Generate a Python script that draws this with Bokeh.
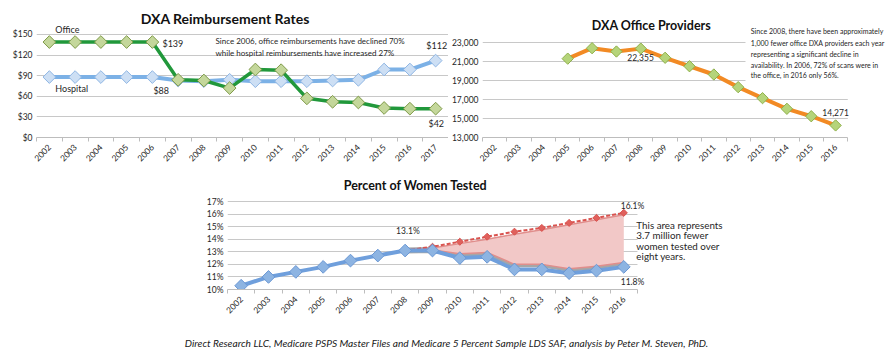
import math
from bokeh.plotting import figure
from bokeh.models import (Label, FixedTicker, PrintfTickFormatter, NumeralTickFormatter,
                          Range1d, BoxAnnotation, Spacer, Div)
from bokeh.layouts import row, column
from bokeh.embed import file_html
from bokeh.resources import INLINE

FONT = "Lato"
NAN = float("nan")

# ---------------- data ----------------
years_reimb = [2002, 2003, 2004, 2005, 2006, 2007, 2008, 2009, 2010, 2011, 2012, 2013, 2014, 2015, 2016, 2017]
office_rate = [139, 139, 139, 139, 139, 84, 83, 72, 99, 98, 57, 52, 51, 43, 42, 42]
hospital_rate = [88, 88, 88, 88, 88, 83, 82, 84, 82, 82, 82, 83, 84, 99, 99, 112]
reimb_ticks = [0, 30, 60, 90, 120, 150]

years_prov = [2002, 2003, 2004, 2005, 2006, 2007, 2008, 2009, 2010, 2011, 2012, 2013, 2014, 2015, 2016]
providers = [NAN, NAN, NAN, 21300, 22400, 22050, 22355, 21390, 20500, 19630, 18300, 17140, 16020, 15240, 14271]
prov_ticks = [13000, 15000, 17000, 19000, 21000, 23000]

years_pct = [2002, 2003, 2004, 2005, 2006, 2007, 2008, 2009, 2010, 2011, 2012, 2013, 2014, 2015, 2016]
pct_tested = [10.3, 11.0, 11.4, 11.8, 12.3, 12.7, 13.1, 13.1, 12.5, 12.6, 11.6, 11.6, 11.3, 11.5, 11.8]
years_proj = [2008, 2009, 2010, 2011, 2012, 2013, 2014, 2015, 2016]
pct_projected = [13.1, 13.4, 13.8, 14.2, 14.6, 14.9, 15.3, 15.7, 16.1]
gap_upper = [13.1, 13.3, 13.65, 14.0, 14.4, 14.75, 15.15, 15.55, 15.95]
gap_lower = [13.1, 13.15, 12.85, 12.95, 12.0, 12.0, 11.65, 11.85, 12.15]
pct_ticks = [10, 11, 12, 13, 14, 15, 16, 17]

TXT = "#262626"
GRID = "#c8c8c8"


def make_fig(width, height, years, x_hi, y_lo, y_hi, yticks, fmt, bl, bb):
    p = figure(width=width, height=height, output_backend="svg", toolbar_location=None,
               x_range=Range1d(years[0] - 0.5, x_hi), y_range=Range1d(y_lo, y_hi),
               min_border_left=bl, min_border_right=0, min_border_top=0, min_border_bottom=bb)
    p.outline_line_color = None
    p.background_fill_color = "white"
    p.border_fill_color = "white"
    p.xgrid.grid_line_color = None
    p.ygrid.ticker = FixedTicker(ticks=yticks)
    p.ygrid.grid_line_color = GRID
    p.ygrid.grid_line_width = 1
    p.yaxis.ticker = FixedTicker(ticks=yticks)
    p.yaxis.formatter = fmt
    p.yaxis.axis_line_color = None
    p.yaxis.major_tick_line_color = None
    p.yaxis.minor_tick_line_color = None
    p.yaxis.major_tick_out = 0
    p.yaxis.minor_tick_out = 0
    p.yaxis.major_label_text_font = FONT
    p.yaxis.major_label_text_font_size = "8.5px"
    p.yaxis.major_label_text_color = TXT
    p.yaxis.major_label_standoff = 4
    bounds = [y - 0.5 for y in years] + [years[-1] + 0.5]
    p.xaxis.ticker = FixedTicker(ticks=years, minor_ticks=bounds)
    p.xaxis.bounds = (years[0] - 0.5, years[-1] + 0.5)
    p.xaxis.axis_line_color = "#bdbdbd"
    p.xaxis.major_tick_line_color = None
    p.xaxis.major_tick_out = 0
    p.xaxis.major_tick_in = 0
    p.xaxis.minor_tick_line_color = "#bdbdbd"
    p.xaxis.minor_tick_out = 4
    p.xaxis.minor_tick_in = 0
    p.xaxis.major_label_orientation = math.pi / 4
    p.xaxis.major_label_text_font = FONT
    p.xaxis.major_label_text_font_size = "8.5px"
    p.xaxis.major_label_text_color = TXT
    p.xaxis.major_label_standoff = 4
    if x_hi > years[-1] + 0.5:
        p.add_layout(BoxAnnotation(left=years[-1] + 0.5, fill_color="white", fill_alpha=1.0,
                                   line_color=None, level="underlay"))
    return p


def lab(p, x, y, text, size="8.5px", align="left", style="normal", color=TXT, baseline="middle"):
    p.add_layout(Label(x=x, y=y, text=text, text_font=FONT, text_font_size=size,
                       text_align=align, text_baseline=baseline, text_font_style=style,
                       text_color=color))


def diamonds(p, xs, ys, size, fill, line):
    p.scatter(xs, ys, marker="square", angle=math.pi / 4, size=size,
              fill_color=fill, line_color=line, line_width=1)


# ---------------- chart 1 ----------------
p1 = make_fig(448, 170, years_reimb, 2017.5, 0, 199.5, reimb_ticks,
              PrintfTickFormatter(format="$%d"), 36, 33)
p1.line(years_reimb, hospital_rate, line_color="#7cb1e6", line_width=4)
diamonds(p1, years_reimb, hospital_rate, 9, "#cddff4", "#8fb6e4")
p1.line(years_reimb, office_rate, line_color="#21983b", line_width=3.5)
diamonds(p1, years_reimb, office_rate, 9, "#c4d79b", "#7f9a48")
lab(p1, 2008.83, 173.3, "DXA Reimbursement Rates", size="14px", align="center", style="bold", color="#111111")
lab(p1, 2002.7, 157.3, "Office", size="9px", align="center")
lab(p1, 2006.39, 136.9, "$139", size="9px")
lab(p1, 2002.23, 71.4, "Hospital", size="9px")
lab(p1, 2006.04, 68.5, "$88", size="9px")
lab(p1, 2008.45, 140.2, "Since 2006, office reimbursements have declined 70%", size="8px")
lab(p1, 2008.45, 122.8, "while hospital reimbursements have increased 27%", size="8px")
lab(p1, 2016.64, 134.0, "$112", size="9px")
lab(p1, 2016.72, 20.9, "$42", size="9px")

# ---------------- chart 2 ----------------
p2 = make_fig(447, 170, years_prov, 2018.46, 13000, 27420, prov_ticks,
              NumeralTickFormatter(format="0,0"), 31, 33)
p2.add_layout(BoxAnnotation(left=2012.3, bottom=18200, fill_color="white", fill_alpha=1.0,
                            line_color=None, level="underlay"))
p2.line(years_prov, providers, line_color="#f28a24", line_width=4)
diamonds(p2, years_prov, providers, 8, "#b5d47a", "#8fb04a")
lab(p2, 2008.44, 24750, "DXA Office Providers", size="12.5px", align="center", style="bold", color="#111111")
lab(p2, 2007.99, 21421, "22,355", size="8.5px", align="center")
lab(p2, 2016.0, 15632, "14,271", size="8.5px", align="center")
prov_note = ["Since 2008, there have been approximately",
             "1,000 fewer office DXA providers each year",
             "representing a significant decline in",
             "availability. In 2006, 72% of scans were in",
             "the office, in 2016 only 56%."]
note_y = [24160, 22900, 21840, 20680, 19530]
for t, yy in zip(prov_note, note_y):
    lab(p2, 2012.52, yy, t, size="7px")

# ---------------- chart 3 ----------------
p3 = make_fig(545, 150, years_pct, 2020.27, 10, 19.47, pct_ticks,
              PrintfTickFormatter(format="%d%%"), 32, 31)
xs_patch = years_proj + years_proj[::-1]
ys_patch = gap_upper + gap_lower[::-1]
p3.line(years_proj, gap_lower, line_color="#a6a6a6", line_width=6)
p3.patch(xs_patch, ys_patch, fill_color="#f2c8c7", fill_alpha=1.0, line_color=None)
p3.line(years_proj, gap_upper, line_color="#e08e8c", line_width=1.5)
p3.line(years_proj, gap_lower, line_color="#e08e8c", line_width=1.5)
p3.line(years_proj, pct_projected, line_color="#d9534f", line_width=2, line_dash="4 2")
p3.scatter(years_proj, pct_projected, marker="square", angle=math.pi / 4, size=5,
           fill_color="#e0605c", line_color="#d9534f")
p3.line(years_pct, pct_tested, line_color="#6f9fdc", line_width=4)
diamonds(p3, years_pct, pct_tested, 9, "#8db4e2", "#6a97d4")
lab(p3, 2008.38, 18.27, "Percent of Women Tested", size="12.5px", align="center", style="bold", color="#111111")
lab(p3, 2008.1, 14.69, "13.1%", size="8.5px", align="center")
lab(p3, 2016.32, 16.68, "16.1%", size="8.5px", align="center")
lab(p3, 2016.32, 10.56, "11.8%", size="8.5px", align="center")
area_note = ["This area represents", "3.7 million fewer", "women tested over", "eight years."]
area_y = [15.17, 14.30, 13.50, 12.70]
for t, yy in zip(area_note, area_y):
    lab(p3, 2016.46, yy, t, size="9.8px")

footer = Div(text="Direct Research LLC, Medicare PSPS Master Files and Medicare 5 Percent Sample LDS SAF, "
                  "analysis by Peter M. Steven, PhD.",
             width=883, height=36,
             styles={"font-family": "Lato", "font-style": "italic", "font-size": "10.2px",
                     "text-align": "center", "color": "#1a1a1a", "line-height": "36px"})

layout = column(row(p1, p2), row(Spacer(width=195, height=150), p3), footer)
open("out.html", "w").write(file_html(layout, INLINE))
